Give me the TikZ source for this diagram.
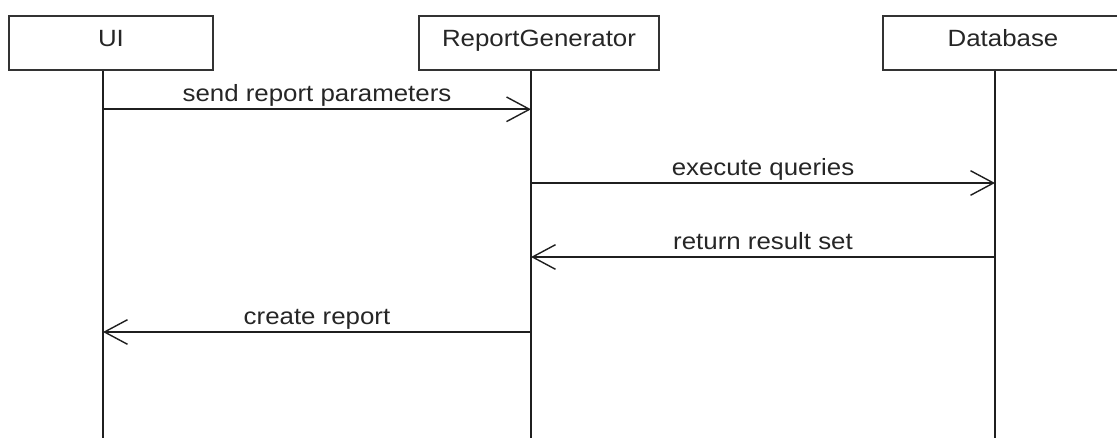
\documentclass[tikz,border=0pt]{standalone}
\usepackage{fontspec}
\setmainfont{Liberation Sans}[FakeStretch=1.1]
\usetikzlibrary{arrows.meta}

\tikzset{
  lifebox/.style={draw=black!80, line width=1.7pt, fill=white, rectangle,
    inner sep=0pt, minimum width=#1, minimum height=54.3pt,
    text=black!85, text height=12pt, text depth=4.7pt},
  lifeline/.style={draw=black!88, line width=1.6pt},
  msg/.style={draw=black!88, line width=1.6pt,
    -{Straight Barb[length=23pt, width=24.6pt, line width=1.4pt]}},
  msglabel/.style={anchor=base, inner sep=0pt, text=black!85, yshift=7.5pt},
}

\begin{document}
\begin{tikzpicture}[x=1pt, y=-1pt, font=\fontsize{23.5pt}{28pt}\selectfont]
  \clip (0,0) rectangle (1117,438);
  \fill[white] (0,0) rectangle (1117,438);

  % participants
  \node[lifebox=204pt] (ui) at (111,42.85) {UI};
  \node[lifebox=240pt] (rg) at (539,42.85) {ReportGenerator};
  \node[lifebox=240pt] (db) at (1003,42.85) {Database};

  % lifelines, a little left of each box centre
  \coordinate (uiL) at ([xshift=-8pt]ui.south);
  \coordinate (rgL) at ([xshift=-8pt]rg.south);
  \coordinate (dbL) at ([xshift=-8pt]db.south);
  \coordinate (bottom) at (0,440);
  \draw[lifeline] (uiL) -- (uiL |- bottom);
  \draw[lifeline] (rgL) -- (rgL |- bottom);
  \draw[lifeline] (dbL) -- (dbL |- bottom);

  % message rows
  \coordinate (m1) at (0,109.3);
  \coordinate (m2) at (0,183);
  \coordinate (m3) at (0,257);
  \coordinate (m4) at (0,332);

  \draw[msg] (uiL |- m1) -- node[msglabel] (l1) {send report parameters} (rgL |- m1);
  \draw[msg] (rgL |- m2) -- node[msglabel] (l2) {execute queries} (dbL |- m2);
  \draw[msg] (dbL |- m3) -- node[msglabel] (l3) {return result set} (rgL |- m3);
  \draw[msg] (rgL |- m4) -- node[msglabel] (l4) {create report} (uiL |- m4);
\end{tikzpicture}
\end{document}
